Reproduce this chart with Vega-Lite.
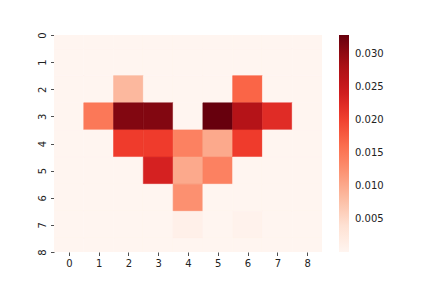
{
  "$schema": "https://vega.github.io/schema/vega-lite/v6.json",
  "width": 268,
  "height": 217,
  "autosize": {"type": "none"},
  "padding": {"left": 54, "top": 35, "right": 110, "bottom": 36},
  "background": "white",
  "config": {
    "view": {"stroke": null},
    "font": "DejaVu Sans",
    "axis": {"labelFont": "DejaVu Sans", "labelFontSize": 10, "labelColor": "#222", "tickColor": "#222", "domain": false, "grid": false, "tickSize": 3.5, "tickWidth": 0.8, "title": null}
  },
  "data": {"values": [
    {"r":0,"c":0,"v":0},{"r":0,"c":1,"v":0},{"r":0,"c":2,"v":0},{"r":0,"c":3,"v":0},{"r":0,"c":4,"v":0},{"r":0,"c":5,"v":0},{"r":0,"c":6,"v":0},{"r":0,"c":7,"v":0},{"r":0,"c":8,"v":0},
    {"r":1,"c":0,"v":0},{"r":1,"c":1,"v":0},{"r":1,"c":2,"v":0},{"r":1,"c":3,"v":0},{"r":1,"c":4,"v":0},{"r":1,"c":5,"v":0},{"r":1,"c":6,"v":0},{"r":1,"c":7,"v":0},{"r":1,"c":8,"v":0},
    {"r":2,"c":0,"v":0},{"r":2,"c":1,"v":0},{"r":2,"c":2,"v":0.0085},{"r":2,"c":3,"v":0},{"r":2,"c":4,"v":0},{"r":2,"c":5,"v":0},{"r":2,"c":6,"v":0.0168},{"r":2,"c":7,"v":0},{"r":2,"c":8,"v":0},
    {"r":3,"c":0,"v":0},{"r":3,"c":1,"v":0.0150},{"r":3,"c":2,"v":0.0310},{"r":3,"c":3,"v":0.0310},{"r":3,"c":4,"v":0},{"r":3,"c":5,"v":0.0328},{"r":3,"c":6,"v":0.0270},{"r":3,"c":7,"v":0.0222},{"r":3,"c":8,"v":0},
    {"r":4,"c":0,"v":0},{"r":4,"c":1,"v":0},{"r":4,"c":2,"v":0.0205},{"r":4,"c":3,"v":0.0205},{"r":4,"c":4,"v":0.0140},{"r":4,"c":5,"v":0.0100},{"r":4,"c":6,"v":0.0205},{"r":4,"c":7,"v":0},{"r":4,"c":8,"v":0},
    {"r":5,"c":0,"v":0},{"r":5,"c":1,"v":0},{"r":5,"c":2,"v":0},{"r":5,"c":3,"v":0.0235},{"r":5,"c":4,"v":0.0100},{"r":5,"c":5,"v":0.0140},{"r":5,"c":6,"v":0},{"r":5,"c":7,"v":0},{"r":5,"c":8,"v":0},
    {"r":6,"c":0,"v":0},{"r":6,"c":1,"v":0},{"r":6,"c":2,"v":0},{"r":6,"c":3,"v":0},{"r":6,"c":4,"v":0.0125},{"r":6,"c":5,"v":0},{"r":6,"c":6,"v":0},{"r":6,"c":7,"v":0},{"r":6,"c":8,"v":0},
    {"r":7,"c":0,"v":0},{"r":7,"c":1,"v":0},{"r":7,"c":2,"v":0},{"r":7,"c":3,"v":0},{"r":7,"c":4,"v":0.0010},{"r":7,"c":5,"v":0},{"r":7,"c":6,"v":0.0006},{"r":7,"c":7,"v":0},{"r":7,"c":8,"v":0},
    {"r":8,"c":0,"v":0},{"r":8,"c":1,"v":0},{"r":8,"c":2,"v":0},{"r":8,"c":3,"v":0},{"r":8,"c":4,"v":0},{"r":8,"c":5,"v":0},{"r":8,"c":6,"v":0},{"r":8,"c":7,"v":0},{"r":8,"c":8,"v":0}
  ]},
  "transform": [
    {"calculate": "datum.c - 0.5", "as": "c0"},
    {"calculate": "datum.c + 0.5", "as": "c1"},
    {"calculate": "datum.r - 0.5", "as": "r0"},
    {"calculate": "datum.r + 0.5", "as": "r1"}
  ],
  "mark": {"type": "rect", "clip": true, "strokeWidth": 0.6, "stroke": {"expr": "scale('color', datum.v)"}},
  "encoding": {
    "x": {"field": "c0", "type": "quantitative", "scale": {"domain": [-0.5, 8.5], "nice": false, "zero": false}, "axis": {"values": [0,1,2,3,4,5,6,7,8], "format": "d", "labelPadding": 3}},
    "x2": {"field": "c1"},
    "y": {"field": "r0", "type": "quantitative", "scale": {"domain": [0, 8], "nice": false, "zero": false, "reverse": true}, "axis": {"values": [0,1,2,3,4,5,6,7,8], "format": "d", "labelAngle": 270, "labelAlign": "center", "labelBaseline": "bottom", "labelPadding": 3}},
    "y2": {"field": "r1"},
    "color": {"field": "v", "type": "quantitative",
      "scale": {"domain": [0, 0.0041, 0.0082, 0.0123, 0.0164, 0.0205, 0.0246, 0.0287, 0.0328], "range": ["#fff5f0","#fee0d2","#fcbba1","#fc9272","#fb6a4a","#ef3b2c","#cb181d","#a50f15","#67000d"], "interpolate": "rgb"},
      "legend": {"type": "gradient", "direction": "vertical", "title": null, "gradientLength": 217, "gradientThickness": 10, "offset": 17, "values": [0.005, 0.01, 0.015, 0.02, 0.025, 0.03], "format": ".3f", "labelFontSize": 10, "labelColor": "#222", "labelFont": "DejaVu Sans", "labelOffset": 6, "gradientStrokeWidth": 0}}
  }
}
